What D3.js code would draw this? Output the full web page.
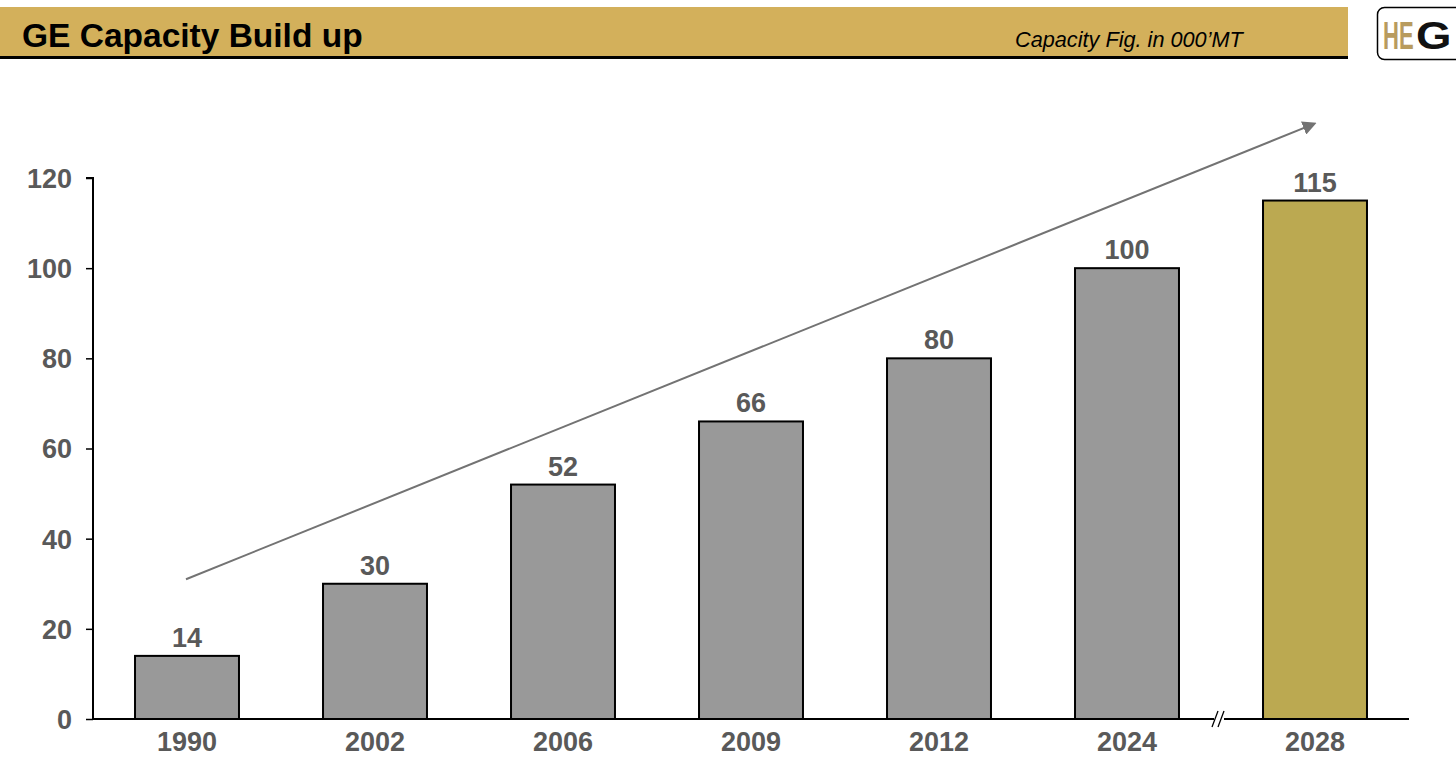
<!DOCTYPE html>
<html>
<head>
<meta charset="utf-8">
<script src="https://cdn.jsdelivr.net/npm/d3@7"></script>
<style>
html,body{margin:0;padding:0;background:#fff;}
svg{display:block;font-family:"Liberation Sans",Arial,sans-serif;}
</style>
</head>
<body>
<svg id="chart" width="1456" height="763"></svg>
<script>
const categories = ["1990","2002","2006","2009","2012","2024","2028"];
const capacity = [14, 30, 52, 66, 80, 100, 115];
const yTicks = [0, 20, 40, 60, 80, 100, 120];
const highlight = ["2028"];
const trendStart = [0, 31];   // [category index, value] approx arrow start
const trendEnd = [6, 132];

const svg = d3.select("#chart");
const W = 1456, H = 763;
const FS = 27;

// Header band
svg.append("rect").attr("x",0).attr("y",7).attr("width",1348).attr("height",50).attr("fill","#D3B05B");
svg.append("rect").attr("x",0).attr("y",56).attr("width",1348).attr("height",3).attr("fill","#000");
svg.append("text").attr("x",22).attr("y",47).attr("font-size",33.5).attr("font-weight","bold").attr("fill","#000").text("GE Capacity Build up");
svg.append("text").attr("x",1015).attr("y",47).attr("font-size",21.7).attr("font-style","italic").attr("fill","#000").text("Capacity Fig. in 000\u2019MT");

// Logo
svg.append("rect").attr("x",1377.5).attr("y",7.5).attr("width",90).attr("height",52).attr("rx",7).attr("fill","#fff").attr("stroke","#000").attr("stroke-width",1.5);
svg.append("text").attr("transform","translate(1383,49) scale(0.58,1)").attr("font-size",38).attr("font-weight","bold")
  .attr("fill","#B89B5E").text("HE");
svg.append("text").attr("transform","translate(1416,49) scale(1.2,1)").attr("font-size",38).attr("font-weight","bold")
  .attr("fill","#111").text("G");

// Scales
const x0 = 93, x1 = 1409, yTop = 178, yBot = 719;
const x = d3.scaleBand().domain(categories).range([x0, x1]).paddingInner(0.447).paddingOuter(0.2235);
const y = d3.scaleLinear().domain([0,120]).range([yBot, yTop]);

// Y axis
const yAxis = d3.axisLeft(y).tickValues(yTicks).tickSize(7).tickPadding(14);
const gy = svg.append("g").attr("transform",`translate(${x0},0)`).call(yAxis);
gy.select(".domain").attr("stroke","#000").attr("stroke-width",2).attr("d",`M-7,${yTop}H0V${yBot}`);
gy.selectAll(".tick line").attr("stroke","#000").attr("stroke-width",1.5);
gy.selectAll(".tick text").attr("font-size",FS).attr("font-weight","bold").attr("fill","#595959").attr("font-family","Liberation Sans, Arial, sans-serif").attr("dy","0.35em");

// X axis
const xAxis = d3.axisBottom(x).tickSize(0).tickPadding(13);
const gx = svg.append("g").attr("transform",`translate(0,${yBot})`).call(xAxis);
gx.select(".domain").attr("stroke","#000").attr("stroke-width",2).attr("d",`M${x0},0H${x1}`);
gx.selectAll(".tick text").attr("font-size",FS).attr("font-weight","bold").attr("fill","#595959").attr("font-family","Liberation Sans, Arial, sans-serif");

// Axis break marks between 2024 and 2028
const bx = (x("2024") + x.bandwidth() + x("2028")) / 2;
svg.append("rect").attr("x",bx-7).attr("y",yBot-3).attr("width",10).attr("height",6).attr("fill","#fff");
[-6, 0].forEach(o => {
  svg.append("line").attr("x1",bx+o-3).attr("y1",yBot+8).attr("x2",bx+o+3).attr("y2",yBot-8).attr("stroke","#000").attr("stroke-width",1.3);
});

// Bars
svg.selectAll(".bar").data(categories).enter().append("rect")
  .attr("x", d => x(d)).attr("width", x.bandwidth())
  .attr("y", (d,i) => y(capacity[i])).attr("height", (d,i) => yBot - y(capacity[i]))
  .attr("fill", d => highlight.includes(d) ? "#BBA951" : "#999999")
  .attr("stroke","#000").attr("stroke-width",2);

// Value labels
svg.selectAll(".lbl").data(categories).enter().append("text")
  .attr("x", d => x(d) + x.bandwidth()/2).attr("y", (d,i) => y(capacity[i]) - 9)
  .attr("text-anchor","middle").attr("font-size",FS).attr("font-weight","bold").attr("fill","#595959")
  .text((d,i) => capacity[i]);

// Trend arrow
const catX = i => x(categories[0]) + x.bandwidth()/2 + i * x.step() - 1;
svg.append("defs").append("marker").attr("id","arr").attr("viewBox","0 0 10 10").attr("refX",8).attr("refY",5)
  .attr("markerWidth",7).attr("markerHeight",7).attr("orient","auto")
  .append("path").attr("d","M0,0L10,5L0,10z").attr("fill","#737373");
svg.append("line")
  .attr("x1", catX(trendStart[0])).attr("y1", y(trendStart[1]))
  .attr("x2", catX(trendEnd[0])).attr("y2", y(trendEnd[1]))
  .attr("stroke","#737373").attr("stroke-width",2).attr("marker-end","url(#arr)");
</script>
</body>
</html>
